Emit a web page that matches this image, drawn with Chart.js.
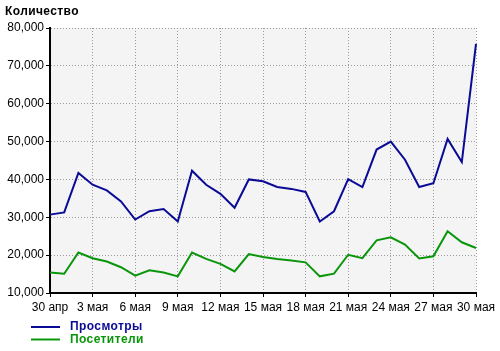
<!DOCTYPE html>
<html>
<head>
<meta charset="utf-8">
<script src="https://cdn.jsdelivr.net/npm/chart.js@4"></script>
<style>
  html, body { margin: 0; padding: 0; background: #fff; }
  #wrap { width: 500px; height: 351px; }
</style>
</head>
<body>
<div id="wrap"><canvas id="statsChart" width="500" height="351"></canvas></div>
<script>
// дни периода
const days = ["30 апр", "1 мая", "2 мая", "3 мая", "4 мая", "5 мая", "6 мая", "7 мая", "8 мая", "9 мая",
  "10 мая", "11 мая", "12 мая", "13 мая", "14 мая", "15 мая", "16 мая", "17 мая", "18 мая", "19 мая",
  "20 мая", "21 мая", "22 мая", "23 мая", "24 мая", "25 мая", "26 мая", "27 мая", "28 мая", "29 мая", "30 мая"];

const views = [30700, 31300, 41700, 38600, 37100, 34200, 29400, 31600, 32200, 28900,
  42300, 38600, 36200, 32500, 40000, 39500, 38000, 37500, 36700, 28900,
  31600, 40100, 38000, 47900, 50000, 45200, 38000, 39000, 50700, 44600, 75800];

const visitors = [15400, 15100, 20700, 19200, 18300, 16800, 14600, 16000, 15400, 14400,
  20700, 19000, 17700, 15700, 20300, 19500, 19000, 18600, 18100, 14400,
  15100, 20100, 19200, 23900, 24700, 22800, 19100, 19700, 26300, 23400, 21900];

const yTicks = [10000, 20000, 30000, 40000, 50000, 60000, 70000, 80000];

const BLUE = "#0a0a96";
const GREEN = "#0a960a";
const GRID = "#999999";
const FONT = "'Liberation Sans', Arial, sans-serif";

const shownTick = i => i % 3 === 0;

// фон области графика, заголовок и легенда
const decor = {
  id: "decor",
  beforeDraw(chart) {
    const { ctx, chartArea: a } = chart;
    ctx.save();
    ctx.fillStyle = "#f4f4f4";
    ctx.fillRect(a.left, a.top, a.right - a.left, a.bottom - a.top);
    ctx.restore();
  },
  afterDraw(chart) {
    const ctx = chart.ctx;
    ctx.save();
    ctx.font = "bold 12px " + FONT;
    ctx.letterSpacing = "0.4px";
    ctx.fillStyle = "#000";
    ctx.textBaseline = "middle";
    ctx.fillText("Количество", 5, 12);
    chart.data.datasets.forEach((ds, i) => {
      const y = 327 + i * 12.5;
      ctx.strokeStyle = ds.borderColor;
      ctx.lineWidth = 2;
      ctx.beginPath();
      ctx.moveTo(31, y);
      ctx.lineTo(60, y);
      ctx.stroke();
      ctx.fillStyle = ds.borderColor;
      ctx.fillText(ds.label, 70, y);
    });
    ctx.restore();
  }
};

new Chart(document.getElementById("statsChart").getContext("2d"), {
  type: "line",
  data: {
    labels: days,
    datasets: [
      { label: "Просмотры", data: views, borderColor: BLUE, borderWidth: 2, pointRadius: 0, tension: 0 },
      { label: "Посетители", data: visitors, borderColor: GREEN, borderWidth: 2, pointRadius: 0, tension: 0 }
    ]
  },
  options: {
    responsive: false,
    animation: false,
    layout: { padding: { top: 28, right: 24, bottom: 33, left: 0 } },
    plugins: { legend: { display: false }, tooltip: { enabled: false } },
    scales: {
      x: {
        offset: false,
        afterFit: s => { s.height = 25; },
        border: { color: "#000", width: 2, dash: [1, 2] },
        grid: {
          color: c => (shownTick(c.index) && c.index > 0 ? GRID : "transparent"),
          tickColor: c => (shownTick(c.index) ? "#000" : "transparent"),
          tickLength: 4,
          tickBorderDash: [],
          lineWidth: 1
        },
        ticks: {
          autoSkip: false,
          maxRotation: 0,
          color: "#000",
          padding: 3,
          font: { family: FONT, size: 12 },
          callback: (v, i) => (shownTick(i) ? days[i] : "")
        }
      },
      y: {
        min: yTicks[0],
        max: yTicks[yTicks.length - 1],
        afterFit: s => { s.width = 50; },
        afterBuildTicks: s => { s.ticks = yTicks.map(v => ({ value: v })); },
        border: { color: "#000", width: 2, dash: [1, 2] },
        grid: {
          color: c => (c.index > 0 ? GRID : "transparent"),
          tickColor: "#000",
          tickLength: 4,
          tickBorderDash: []
        },
        ticks: {
          color: "#000",
          padding: 2,
          font: { family: FONT, size: 12 },
          callback: v => v.toLocaleString("en-US")
        }
      }
    }
  },
  plugins: [decor]
});
</script>
</body>
</html>
